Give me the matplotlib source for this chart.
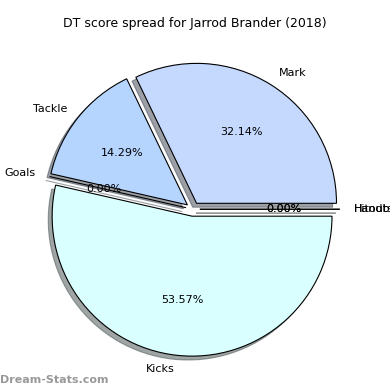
import matplotlib
matplotlib.use("Agg")
import matplotlib.pyplot as plt

labels = ["Handball", "Mark", "Tackle", "Goals", "Kicks", "Hitouts"]
values = [0, 9, 4, 0, 15, 0]
colors = ["#c5d9ff", "#c5d9ff", "#b5d5ff", "#b5d5ff", "#d9ffff", "#d9ffff"]
explode = [0.05] * len(values)

fig = plt.figure(figsize=(3.9, 3.9), dpi=100)
ax = fig.add_axes([0.046, 0.015, 0.897, 0.897])
ax.pie(values, labels=labels, colors=colors, explode=explode, shadow=True,
       autopct="%1.2f%%", startangle=0, counterclock=True,
       wedgeprops=dict(edgecolor="black", linewidth=0.8),
       textprops=dict(fontsize=8))
ax.set_aspect("equal")
fig.text(0.5, 1 - 24 / 390, "DT score spread for Jarrod Brander (2018)",
         fontsize=9, ha="center", va="center")
fig.text(0.0, 0.018, "Dream-Stats.com", fontsize=8, color="#999999",
         fontweight="bold")
fig.savefig("out.png", dpi=100)
